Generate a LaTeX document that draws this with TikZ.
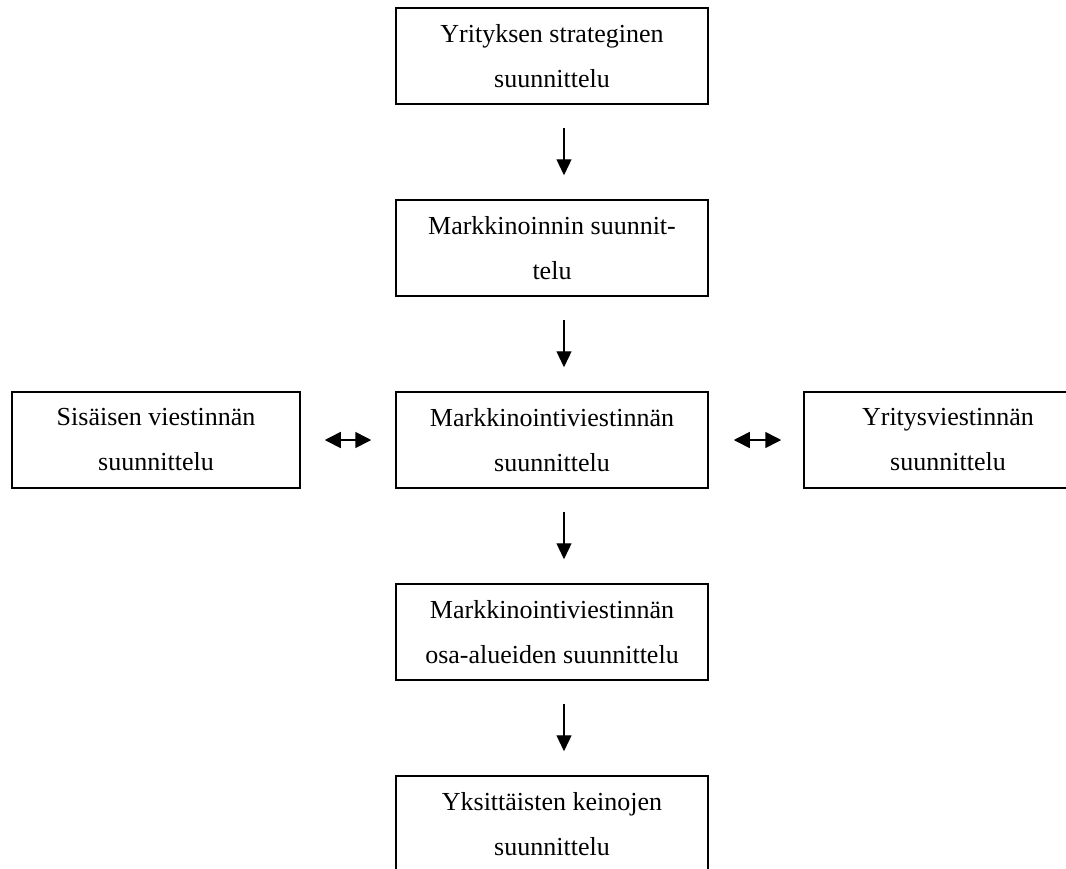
\documentclass[tikz,border=0pt]{standalone}
\usepackage{fontspec}
\setmainfont{Liberation Serif}
\usetikzlibrary{arrows.meta}
\begin{document}
\begin{tikzpicture}[x=1pt,y=-1pt,
  box/.style={draw=black,line width=1.5pt,rectangle,minimum height=96pt,inner sep=0pt,
    align=center,font=\fontsize{26}{45}\selectfont},
  cbox/.style={box,minimum width=312pt},
  sbox/.style={box,minimum width=288pt},
  down/.style={line width=1.3pt,-{Triangle[width=15pt,length=16pt]}},
  both/.style={line width=1.6pt,{Triangle[width=16pt,length=16pt]}-{Triangle[width=16pt,length=16pt]}}]
\useasboundingbox (0,0) rectangle (1066,868);
\clip (0,0) rectangle (1066,868);
\node[cbox] (a) at (552,56) {Yrityksen strateginen\\suunnittelu};
\node[cbox] (b) at (552,248) {Markkinoinnin suunnit-\\telu};
\node[cbox] (c) at (552,440) {Markkinointiviestinnän\\suunnittelu};
\node[sbox] (l) at (156,440) {Sisäisen viestinnän\\suunnittelu};
\node[sbox] (r) at (948,440) {Yritysviestinnän\\suunnittelu};
\node[cbox] (d) at (552,632) {Markkinointiviestinnän\\osa-alueiden suunnittelu};
\node[cbox] (e) at (552,824) {Yksittäisten keinojen\\suunnittelu};
\draw[down] ([xshift=12pt,yshift=-23pt]a.south) -- ([xshift=12pt,yshift=24pt]b.north);
\draw[down] ([xshift=12pt,yshift=-23pt]b.south) -- ([xshift=12pt,yshift=24pt]c.north);
\draw[down] ([xshift=12pt,yshift=-23pt]c.south) -- ([xshift=12pt,yshift=24pt]d.north);
\draw[down] ([xshift=12pt,yshift=-23pt]d.south) -- ([xshift=12pt,yshift=24pt]e.north);
\draw[both] ([xshift=24pt]l.east) -- ([xshift=-24pt]c.west);
\draw[both] ([xshift=25pt]c.east) -- ([xshift=-22pt]r.west);
\end{tikzpicture}
\end{document}
